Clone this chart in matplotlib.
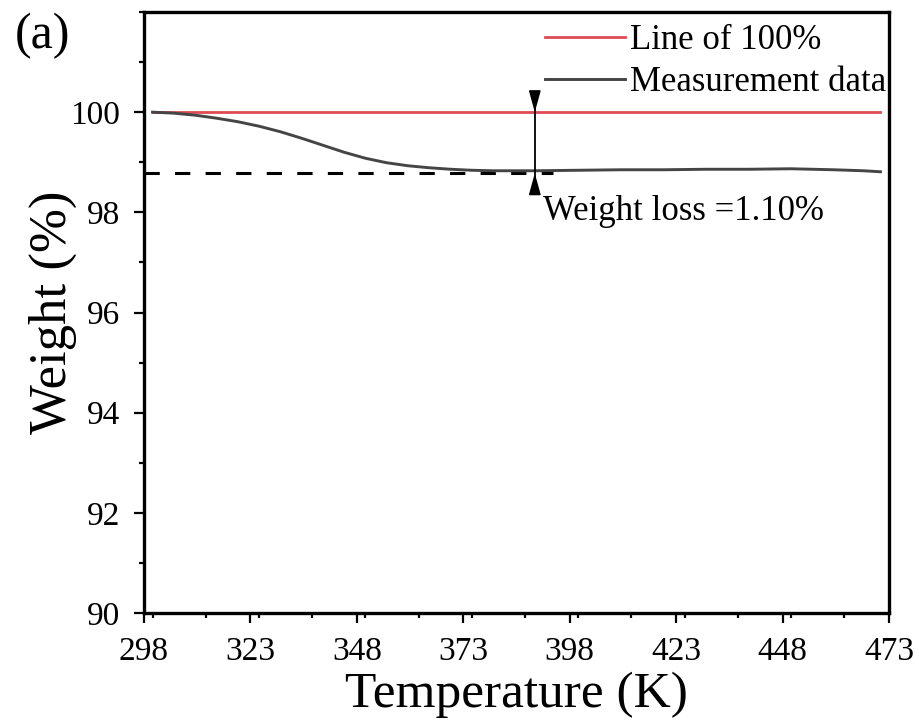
import matplotlib
matplotlib.use("Agg")
import matplotlib.pyplot as plt
from matplotlib.ticker import MultipleLocator

# ---- data ----
temperature = [300, 305, 310, 315, 320, 325, 330, 335, 340, 345, 350, 355, 360,
               365, 370, 375, 380, 385, 390, 400, 410, 420, 430, 440, 450, 460,
               467, 471]
weight = [100.00, 99.98, 99.94, 99.88, 99.81, 99.72, 99.61, 99.48, 99.34, 99.20,
          99.08, 98.99, 98.93, 98.89, 98.86, 98.84, 98.83, 98.83, 98.83, 98.84,
          98.85, 98.85, 98.86, 98.86, 98.87, 98.85, 98.83, 98.81]
ref_x = [300, 471]
ref_y = [100, 100]
dash_x = [298, 394]
dash_y = [98.78, 98.78]
arrow_x = 389.8
arrow_top, arrow_bottom = 100.4, 98.42
xticks = [298, 323, 348, 373, 398, 423, 448, 473]
yticks = [90, 92, 94, 96, 98, 100]

plt.rcParams['font.family'] = ['Liberation Serif', 'DejaVu Serif']
plt.rcParams['mathtext.fontset'] = 'stix'

fig = plt.figure(figsize=(9.19, 7.22), dpi=100)
ax = fig.add_axes([144/919, 1-613/722, (889-144)/919, (613-12)/722])

ax.plot(ref_x, ref_y, color='#e04a55', lw=2.0, label='Line of 100%', zorder=3)
ax.plot(temperature, weight, color='#454545', lw=2.1, label='Measurement data', zorder=3)
ax.plot(dash_x, dash_y, color='black', lw=2.2, dashes=(5, 5), zorder=2)

ax.plot([arrow_x, arrow_x], [arrow_top, arrow_bottom], color='black', lw=1.3, zorder=4)
for start, end in [(arrow_top, 100.0), (arrow_bottom, dash_y[0])]:
    ax.annotate('', xy=(arrow_x, end), xytext=(arrow_x, start),
                arrowprops=dict(arrowstyle='-|>,head_length=13,head_width=3.6',
                                mutation_scale=1, color='black', lw=1.2,
                                shrinkA=0, shrinkB=0), zorder=5)

ax.text(391.7, 97.84, 'Weight loss =1.10%', fontsize=25, ha='left', va='baseline')

ax.set_xlim(298, 473)
ax.set_ylim(90, 102)
ax.set_xticks(xticks)
ax.set_yticks(yticks)
ax.xaxis.set_minor_locator(MultipleLocator(12.5))
ax.yaxis.set_minor_locator(MultipleLocator(1))
ax.tick_params(which='major', direction='out', length=7, width=1.6, labelsize=24,
               top=False, right=False)
ax.tick_params(axis='y', which='major', pad=10)
ax.tick_params(axis='x', which='major', pad=10)
ax.tick_params(which='minor', direction='out', length=3.5, width=1.6, top=False, right=False)
for s in ax.spines.values():
    s.set_linewidth(2.4)

ax.set_xlabel('Temperature (K)', fontsize=37, labelpad=3)
ax.set_ylabel('Weight (%)', fontsize=38, labelpad=-5)

leg = ax.legend(loc='upper left', bbox_to_anchor=(545/919, 1-24/722),
                bbox_transform=fig.transFigure, frameon=False, fontsize=25,
                handlelength=2.3, handletextpad=0.15, labelspacing=0.25,
                borderpad=0, borderaxespad=0)

fig.text(15/919, 1-36/722, '(a)', fontsize=36, ha='left', va='center')

fig.savefig('out.png', dpi=100)
